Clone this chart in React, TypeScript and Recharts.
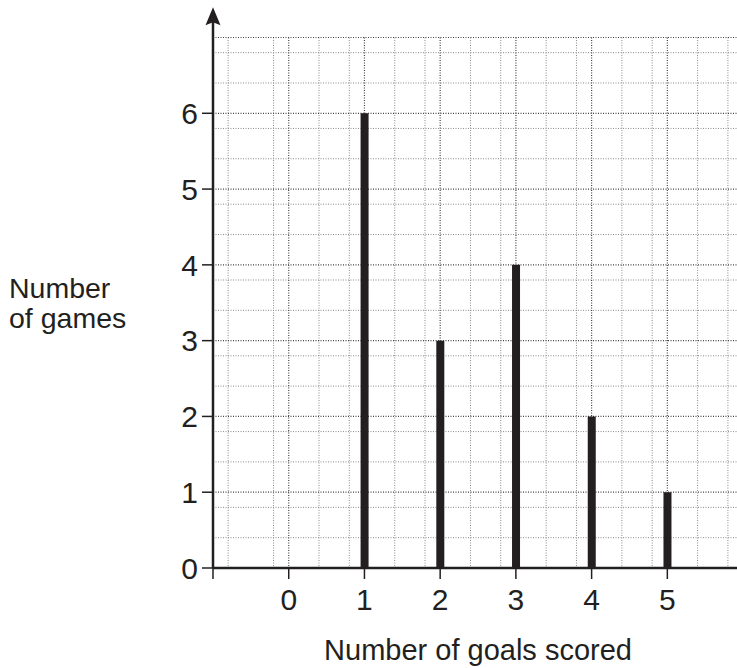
import React from "react";
import {
  Bar,
  CartesianGrid,
  ComposedChart,
  Label,
  ReferenceLine,
  XAxis,
  YAxis,
} from "recharts";

const goals = [0, 1, 2, 3, 4, 5];
const games = [0, 6, 3, 4, 2, 1];
const xTicks = [-1, 0, 1, 2, 3, 4, 5];
const yTicks = [0, 1, 2, 3, 4, 5, 6];

const data = goals.map((g, i) => ({ goals: g, games: games[i] }));

const ink = "#231f20";
const font = "'Liberation Sans', Arial, sans-serif";

// grid every fifth of a unit, integers drawn darker
const minorX = Array.from({ length: 34 }, (_, i) => Math.round((-0.8 + i * 0.2) * 10) / 10).filter(
  (v) => !Number.isInteger(v)
);
const majorX = [0, 1, 2, 3, 4, 5];
const minorY = Array.from({ length: 35 }, (_, i) => Math.round((0.2 + i * 0.2) * 10) / 10).filter(
  (v) => !Number.isInteger(v)
);
const majorY = [1, 2, 3, 4, 5, 6, 7];

function AxisArrow(props: any) {
  const { x1, y1, x2, y2 } = props;
  const tip = Math.min(y1, y2);
  const bottom = Math.max(y1, y2);
  return (
    <g>
      <line x1={x1} y1={bottom} x2={x2} y2={tip + 12} stroke={ink} strokeWidth={2.5} />
      <path
        d={`M${x1} ${tip} L${x1 + 7.5} ${tip + 18} L${x1} ${tip + 15} L${x1 - 7.5} ${tip + 18} Z`}
        fill={ink}
      />
    </g>
  );
}

export default function App() {
  return (
    <div style={{ position: "absolute", left: 0, top: 0, background: "#fff" }}>
      <ComposedChart
        width={737}
        height={668}
        data={data}
        margin={{ top: 37.5, right: 0, left: 153, bottom: 60 }}
      >
        <CartesianGrid
          horizontalValues={minorY}
          verticalValues={minorX}
          stroke="#8a8a8a"
          strokeDasharray="1 1.5"
          strokeWidth={1}
        />
        <CartesianGrid
          horizontalValues={majorY}
          verticalValues={majorX}
          stroke="#444"
          strokeDasharray="1 1.5"
          strokeWidth={1.2}
        />
        <XAxis
          dataKey="goals"
          type="number"
          domain={[-1, 5.92]}
          ticks={xTicks}
          tickFormatter={(v) => (v === -1 ? "" : String(v))}
          allowDataOverflow
          height={40}
          tickSize={11}
          tickMargin={10}
          axisLine={{ stroke: ink, strokeWidth: 2.5 }}
          tickLine={{ stroke: ink, strokeWidth: 1.5 }}
          tick={{ fill: ink, fontSize: 30, fontFamily: font }}
        >
          <Label
            value="Number of  goals scored"
            position="bottom"
            offset={31}
            dx={3}
            style={{ fill: ink, fontSize: 29, fontFamily: font, whiteSpace: "pre" }}
          />
        </XAxis>
        <YAxis
          type="number"
          domain={[0, 7]}
          ticks={yTicks}
          width={60}
          tickSize={11}
          tickMargin={4}
          axisLine={false}
          tickLine={{ stroke: ink, strokeWidth: 1.5 }}
          tick={{ fill: ink, fontSize: 30, fontFamily: font }}
        >
          <Label
            content={() => (
              <text fill={ink} fontSize={28.5} fontFamily={font}>
                <tspan x={9} y={298}>Number</tspan>
                <tspan x={9} y={328}>of games</tspan>
              </text>
            )}
          />
        </YAxis>
        <ReferenceLine
          segment={[
            { x: -1, y: 0 },
            { x: -1, y: 7.4 },
          ]}
          ifOverflow="visible"
          shape={AxisArrow}
        />
        <Bar dataKey="games" fill={ink} barSize={8} isAnimationActive={false} />
      </ComposedChart>
    </div>
  );
}
